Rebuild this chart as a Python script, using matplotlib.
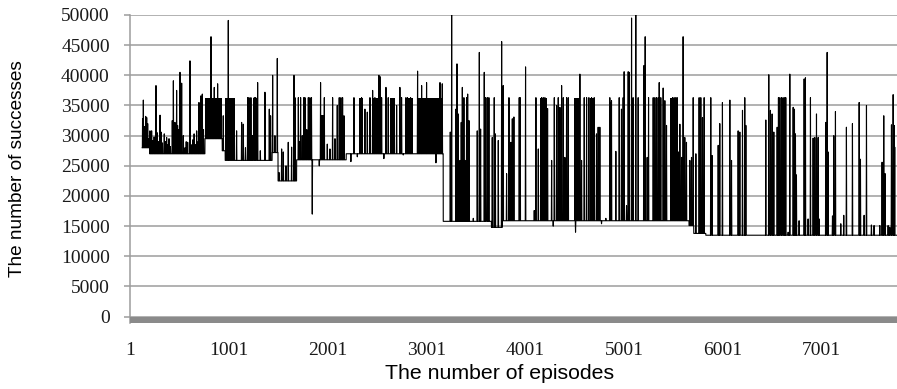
import numpy as np
import matplotlib.pyplot as plt

plt.rcParams['font.family'] = ['Liberation Serif', 'DejaVu Serif']

# baseline level of the curve; it changes at these episodes
base_ep = [126, 200, 760, 935, 965, 1440, 1500, 1688, 2190, 3172, 3660, 3770, 5660, 5708, 5830]
base_val = [28000, 27000, 29500, 27500, 25900, 27200, 22500, 26000, 27000, 15800, 14800, 15900, 15100, 13800, 13500]
last_ep = 7765

# single spikes / dips (episode, number of successes)
spike_ep = [
    128, 136, 148, 160, 170, 180, 192, 203, 212, 220, 232, 245, 264, 275, 290, 305, 315, 330,
    348, 360, 372, 385, 396, 410, 429, 440, 456, 473, 483, 495, 507, 515, 524, 541, 558, 570,
    585, 608, 620, 635, 650, 665, 676, 690, 699, 710, 719, 733, 745, 821, 854, 888, 945, 996,
    1080, 1131, 1148, 1170, 1192, 1205, 1225, 1240, 1259, 1273, 1293, 1320, 1367, 1411, 1424,
    1445, 1468, 1492, 1509,
    1536, 1553, 1580, 1603, 1637, 1661, 1671, 1705, 1715, 1728, 1745, 1760, 1772, 1790, 1806,
    1822, 1838, 1846, 1917, 1930, 1968, 1998, 2025, 2052, 2076, 2099, 2119, 2136, 2153, 2167,
    2237, 2268, 2302, 2345, 2379, 2403, 2430, 2457, 2480, 2497, 2521, 2531, 2548, 2571, 2592,
    2615, 2700, 2733, 2750, 2767, 2794, 2810, 2841, 2912, 2953, 3003, 3098, 3139, 3162,
    3243, 3257, 3300, 3311, 3324, 3341, 3354, 3365, 3381, 3392, 3408, 3419, 3432, 3476, 3516,
    3537, 3550, 3587, 3601, 3618, 3634, 3668, 3688, 3699, 3729, 3763, 3779, 3813, 3837, 3857,
    3871, 3887, 3941, 3951, 4005, 4093, 4110, 4134, 4167, 4184, 4201, 4228, 4269, 4285, 4296,
    4319, 4336, 4353, 4370, 4387, 4403, 4420, 4437, 4511, 4555, 4572, 4599, 4623, 4646, 4673,
    4700, 4723, 4740, 4757, 4774, 4818, 4858, 4868, 4875, 4919, 4953, 4976, 4993, 5003, 5027,
    5044, 5054, 5078, 5094, 5121, 5145, 5202, 5216, 5236, 5250, 5297, 5314, 5331, 5348, 5358,
    5374, 5398, 5415, 5432, 5476, 5493, 5509, 5526, 5540, 5553, 5567, 5584, 5600, 5617, 5634,
    5668, 5685, 5702, 5729, 5762, 5779, 5796, 5813, 5880, 5894, 5955, 5971, 5998, 6073, 6090,
    6157, 6174, 6201, 6224, 6235,
    6437, 6467, 6484, 6501, 6518, 6552, 6565, 6579, 6596, 6612, 6629, 6639, 6663, 6680, 6714,
    6727, 6737, 6747, 6774, 6825, 6838, 6865, 6889, 6916, 6933, 6950, 6967, 6977, 7044, 7058,
    7068, 7112, 7125, 7142, 7196, 7226, 7253, 7314, 7382, 7395, 7432, 7456, 7506, 7533, 7591,
    7614, 7631, 7645, 7675, 7692, 7709, 7726, 7736, 7742,
]
spike_val = [
    32800, 35900, 31500, 33200, 33000, 32000, 29500, 30800, 28500, 30800, 29200, 29800, 38300, 30500, 29000, 33400, 30600, 28800,
    30300, 29000, 29700, 28500, 29500, 28200, 32500, 39100, 32200, 37500, 31700, 31000, 40500, 33500, 38700, 30000, 28000, 29000,
    28900, 42400, 28500, 29300, 30300, 28500, 30800, 29000, 35500, 31000, 36600, 36900, 31000, 46400, 38000, 38600, 33300, 49100,
    30800, 32200, 31900, 28000, 36300, 36300, 36300, 30000, 36300, 36300, 38800, 27500, 37200, 34400, 33300,
    40000, 30000, 42800, 23900,
    27800, 27300, 25000, 28900, 28100, 40000, 36300, 36300, 29000, 36300, 30000, 36300, 36300, 31000, 36300,
    36300, 36300, 17000, 25000, 38800, 36300, 28600, 27800, 36300, 29500, 35000, 36300, 36300, 36300, 33300,
    25700, 36300, 26500, 36300, 34400, 33900, 36300, 37500, 36300, 35000, 40000, 39800, 36300, 26200, 38000,
    36300, 35000, 38000, 36300, 26800, 36300, 36300, 36300, 40700, 38300, 38800, 25500, 38800, 38600,
    30600, 50000, 34400, 41900, 33600, 25900, 32200, 38000, 36300, 25900, 36300, 36900, 32500, 16300, 30800,
    43800, 31100, 40500, 36300, 36300, 36300, 29700, 36300, 30300, 29200, 45600, 38300, 23700, 36300, 28900,
    32800, 33100, 36300, 36300, 41400, 17600, 36300, 27800, 36300, 36300, 36300, 34500, 25900, 15000, 36300,
    35000, 36300, 34700, 38300, 36300, 26400, 36300, 36300, 14000, 40200, 25900, 36300, 36300, 36300, 36300,
    36300, 30300, 31400, 31400, 15400, 16300, 36300, 35500, 35800, 27400, 36300, 34400, 36300, 40600, 18400,
    40600, 40500, 49500, 36300, 50000, 36300, 41600, 46400, 26400, 36300, 36300, 36300, 36300, 36300, 38800,
    36300, 37900, 35800, 31700, 33300, 36300, 36300, 36300, 36300, 27300, 31900, 26400, 46400, 29700, 28900,
    25900, 26400, 36300, 27000, 36300, 36300, 33000, 36300, 36300, 26700, 28400, 32000, 35500, 35900, 25900,
    30800, 30600, 34200, 36300, 31700,
    32600, 40100, 34200, 33600, 30600, 31400, 36300, 36300, 36300, 36300, 36300, 36300, 14000, 40200, 34700,
    34400, 30300, 23500, 15900, 39400, 39600, 16200, 36300, 29600, 29700, 33600, 29700, 16200, 32200, 43800,
    27300, 16700, 30000, 34000, 15400, 16800, 31400, 32000, 35500, 26100, 16800, 35000, 15200, 15100, 15100,
    25600, 33300, 23700, 15100, 14800, 31800, 36800, 31700, 28100,
]

# stretches where the curve swings so fast it paints a solid black block
block_start = [760, 962, 1250, 1938, 2318, 2460, 2632, 2818, 2919, 3296, 4150, 4498, 4656, 5466]
block_end = [930, 1065, 1295, 1972, 2362, 2545, 2683, 2868, 3172, 3326, 4218, 4545, 4710, 5545]
block_low = [29500, 25900, 25900, 26000, 27000, 27000, 27000, 27000, 27000, 15900, 15900, 15900, 15900, 15900]
block_high = [36300, 36300, 36300, 33500, 36300, 36300, 36300, 36300, 36300, 33500, 36300, 36300, 36300, 36300]

x_ticks = [1, 1001, 2001, 3001, 4001, 5001, 6001, 7001]


def level(e):
    return base_val[np.searchsorted(base_ep, e, side='right') - 1]


pts = [(base_ep[0], base_val[0])]
for e0, v0, v1 in zip(base_ep[1:], base_val[:-1], base_val[1:]):
    pts += [(e0 - 1, v0), (e0, v1)]
for e, v in zip(spike_ep, spike_val):
    b = level(e)
    pts += [(e - 3, b), (e, v), (e + 3, b)]
pts.append((last_ep, base_val[-1]))
pts.sort()
xs = [p[0] for p in pts]
ys = [p[1] for p in pts]

fig = plt.figure(figsize=(8.97, 3.89), dpi=100)
ax = fig.add_axes([130 / 897, 1 - 322.7 / 389, 767 / 897, 307.7 / 389])

grid_c = '#9c9c9c'
ax.yaxis.grid(True, color=grid_c, lw=1.1)
ax.set_axisbelow(True)

for s, e, lo, hi in zip(block_start, block_end, block_low, block_high):
    ax.fill_between([s, e], lo, hi, color='black', lw=0, zorder=2)
ax.plot(xs, ys, color='black', lw=0.8, zorder=2)

ax.axhspan(-1000, 0, color='#8a8a8a', lw=0, zorder=3)

ax.set_xlim(1, last_ep)
ax.set_ylim(-1000, 50000)
ax.set_yticks(range(0, 50001, 5000))
ax.set_xticks(x_ticks)

for side in ['top', 'right', 'bottom']:
    ax.spines[side].set_visible(False)
ax.spines['left'].set_color(grid_c)
ax.spines['left'].set_linewidth(1.1)

ax.tick_params(axis='y', direction='out', length=4.5, width=1.1, color=grid_c,
               labelcolor='#1a1a1a', labelsize=14, pad=10)
ax.tick_params(axis='x', length=0, labelcolor='#1a1a1a', labelsize=14, pad=14)

fig.text(18 / 897, 1 - 169 / 389, 'The number of successes', rotation=90,
         ha='center', va='center', fontsize=13.7, family=['Liberation Sans', 'DejaVu Sans'])
fig.text(500 / 897, 1 - 379 / 389, 'The number of episodes', ha='center', va='baseline',
         fontsize=15.3, family=['Liberation Sans', 'DejaVu Sans'])

fig.savefig('out.png', dpi=100)
